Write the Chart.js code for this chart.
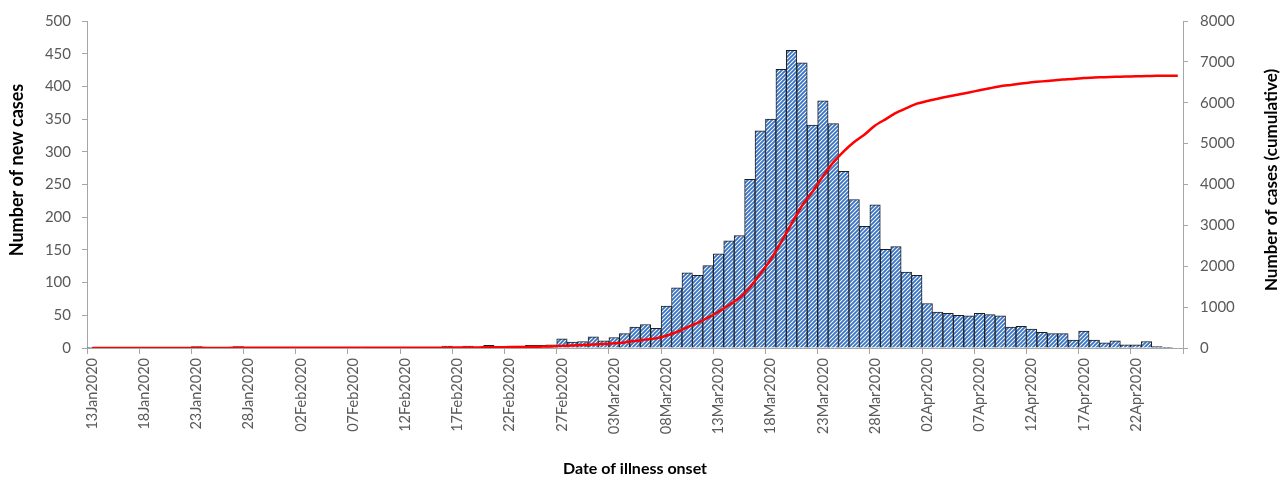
<!DOCTYPE html>
<html>
<head>
<meta charset="utf-8">
<title>Cases by date of illness onset</title>
<script src="https://cdn.jsdelivr.net/npm/chart.js@4/dist/chart.umd.min.js"></script>
<style>
  html, body { margin: 0; padding: 0; background: #fff; }
  #wrap { width: 1288px; height: 478px; position: relative; }
</style>
</head>
<body>
<div id="wrap"><canvas id="onsetChart"></canvas></div>
<script>
// Dates of illness onset (one bar per day)
const dates = [
    '13Jan2020', '14Jan2020', '15Jan2020', '16Jan2020', '17Jan2020', '18Jan2020', '19Jan2020', '20Jan2020', '21Jan2020', '22Jan2020',
    '23Jan2020', '24Jan2020', '25Jan2020', '26Jan2020', '27Jan2020', '28Jan2020', '29Jan2020', '30Jan2020', '31Jan2020', '01Feb2020',
    '02Feb2020', '03Feb2020', '04Feb2020', '05Feb2020', '06Feb2020', '07Feb2020', '08Feb2020', '09Feb2020', '10Feb2020', '11Feb2020',
    '12Feb2020', '13Feb2020', '14Feb2020', '15Feb2020', '16Feb2020', '17Feb2020', '18Feb2020', '19Feb2020', '20Feb2020', '21Feb2020',
    '22Feb2020', '23Feb2020', '24Feb2020', '25Feb2020', '26Feb2020', '27Feb2020', '28Feb2020', '29Feb2020', '01Mar2020', '02Mar2020',
    '03Mar2020', '04Mar2020', '05Mar2020', '06Mar2020', '07Mar2020', '08Mar2020', '09Mar2020', '10Mar2020', '11Mar2020', '12Mar2020',
    '13Mar2020', '14Mar2020', '15Mar2020', '16Mar2020', '17Mar2020', '18Mar2020', '19Mar2020', '20Mar2020', '21Mar2020', '22Mar2020',
    '23Mar2020', '24Mar2020', '25Mar2020', '26Mar2020', '27Mar2020', '28Mar2020', '29Mar2020', '30Mar2020', '31Mar2020', '01Apr2020',
    '02Apr2020', '03Apr2020', '04Apr2020', '05Apr2020', '06Apr2020', '07Apr2020', '08Apr2020', '09Apr2020', '10Apr2020', '11Apr2020',
    '12Apr2020', '13Apr2020', '14Apr2020', '15Apr2020', '16Apr2020', '17Apr2020', '18Apr2020', '19Apr2020', '20Apr2020', '21Apr2020',
    '22Apr2020', '23Apr2020', '24Apr2020', '25Apr2020', '26Apr2020'
];

// New cases per day (left axis)
const newCases = [
    1, 0, 0, 0, 0, 0, 0, 0, 0, 0,
    2, 0, 0, 0, 2, 0, 0, 0, 0, 0,
    0, 0, 1, 0, 0, 0, 0, 0, 0, 0,
    0, 0, 0, 0, 3, 1, 3, 1, 4, 2,
    2, 3, 4, 4, 5, 14, 9, 10, 17, 11,
    16, 22, 32, 36, 30, 64, 92, 115, 111, 126,
    144, 164, 172, 258, 332, 350, 426, 455, 436, 341,
    378, 343, 270, 227, 186, 219, 151, 155, 116, 111,
    68, 55, 53, 50, 49, 53, 51, 49, 32, 33,
    29, 24, 22, 22, 12, 26, 12, 8, 11, 5,
    5, 10, 2, 1, 0
];

// Cumulative cases (right axis)
const cumulativeCases = [
    1, 1, 1, 1, 1, 1, 1, 1, 1, 1,
    3, 3, 3, 3, 5, 5, 5, 5, 5, 5,
    5, 5, 6, 6, 6, 6, 6, 6, 6, 6,
    6, 6, 6, 6, 9, 10, 13, 14, 18, 20,
    22, 25, 29, 33, 38, 52, 61, 71, 88, 99,
    115, 137, 169, 205, 235, 299, 391, 506, 617, 743,
    887, 1051, 1223, 1481, 1813, 2163, 2589, 3044, 3480, 3821,
    4199, 4542, 4812, 5039, 5225, 5444, 5595, 5750, 5866, 5977,
    6045, 6100, 6153, 6203, 6252, 6305, 6356, 6405, 6437, 6470,
    6499, 6523, 6545, 6567, 6579, 6605, 6617, 6625, 6636, 6641,
    6646, 6656, 6658, 6659, 6659
];

const LABEL_EVERY = 5;
const AXIS_GREY = '#a6a6a6';
const TICK_TEXT = '#595959';
const FONT = 'Lato, "Open Sans", sans-serif';

// Blue diagonal hatch used for the bars
function makeHatch() {
    const c = document.createElement('canvas');
    c.width = 4;
    c.height = 4;
    const g = c.getContext('2d');
    g.fillStyle = '#ffffff';
    g.fillRect(0, 0, 4, 4);
    g.strokeStyle = '#3a74c4';
    g.lineWidth = 1.9;
    g.beginPath();
    g.moveTo(0, 4); g.lineTo(4, 0);
    g.moveTo(-1, 1); g.lineTo(1, -1);
    g.moveTo(3, 5); g.lineTo(5, 3);
    g.stroke();
    return g.createPattern(c, 'repeat');
}

// Both y titles read bottom-to-top, so they are drawn here
const axisTitles = {
    id: 'axisTitles',
    afterDraw(chart) {
        const ctx = chart.ctx;
        ctx.save();
        ctx.fillStyle = '#000';
        ctx.font = 'bold 18px ' + FONT;
        ctx.textAlign = 'center';
        ctx.textBaseline = 'middle';
        ctx.translate(17, 170);
        ctx.rotate(-Math.PI / 2);
        ctx.fillText('Number of new cases', 0, 0);
        ctx.restore();

        ctx.save();
        ctx.fillStyle = '#000';
        ctx.font = 'bold 17px ' + FONT;
        ctx.textAlign = 'center';
        ctx.textBaseline = 'middle';
        ctx.translate(1272, 180);
        ctx.rotate(-Math.PI / 2);
        ctx.fillText('Number of cases (cumulative)', 0, 0);
        ctx.restore();
    }
};

document.addEventListener('DOMContentLoaded', () => {
    const ctx = document.getElementById('onsetChart').getContext('2d');
    new Chart(ctx, {
        data: {
            labels: dates,
            datasets: [
                {
                    type: 'line',
                    label: 'Cumulative',
                    data: cumulativeCases,
                    yAxisID: 'y1',
                    borderColor: '#ff0000',
                    borderWidth: 2.5,
                    pointRadius: 0,
                    tension: 0.2,
                    order: 0
                },
                {
                    type: 'bar',
                    label: 'New cases',
                    data: newCases,
                    yAxisID: 'y',
                    backgroundColor: makeHatch(),
                    borderColor: '#1f1f1f',
                    borderWidth: 1,
                    barPercentage: 1,
                    categoryPercentage: 1,
                    order: 1
                }
            ]
        },
        options: {
            responsive: true,
            maintainAspectRatio: false,
            animation: false,
            layout: { padding: { top: 20, left: 0, right: 0, bottom: 0 } },
            plugins: {
                legend: { display: false },
                tooltip: { enabled: false }
            },
            scales: {
                x: {
                    type: 'category',
                    offset: true,
                    grid: {
                        offset: true,
                        drawOnChartArea: false,
                        tickLength: 6,
                        color: (c) => (c.index === undefined || c.index % LABEL_EVERY === 0) ? AXIS_GREY : 'rgba(0,0,0,0)'
                    },
                    border: { color: AXIS_GREY, width: 1 },
                    ticks: {
                        autoSkip: false,
                        maxRotation: 90,
                        minRotation: 90,
                        padding: 4,
                        color: TICK_TEXT,
                        font: { family: FONT, size: 14.5 },
                        callback: (val, i) => i % LABEL_EVERY === 0 ? dates[i] : ''
                    },
                    title: {
                        display: true,
                        text: 'Date of illness onset',
                        color: '#000',
                        font: { family: FONT, size: 16, weight: 'bold' },
                        padding: { top: 0, bottom: 0 }
                    },
                    afterFit: (scale) => { scale.height = 130; }
                },
                y: {
                    position: 'left',
                    min: 0,
                    max: 500,
                    grid: { drawOnChartArea: false, tickLength: 5, color: AXIS_GREY },
                    border: { color: AXIS_GREY, width: 1 },
                    ticks: {
                        stepSize: 50,
                        padding: 11,
                        color: TICK_TEXT,
                        font: { family: FONT, size: 15 }
                    },
                    afterFit: (scale) => { scale.width = 87; }
                },
                y1: {
                    position: 'right',
                    min: 0,
                    max: 8000,
                    grid: { drawOnChartArea: false, tickLength: 5, color: AXIS_GREY },
                    border: { color: AXIS_GREY, width: 1 },
                    ticks: {
                        stepSize: 1000,
                        padding: 12,
                        color: TICK_TEXT,
                        font: { family: FONT, size: 15 },
                        callback: (val) => String(val)
                    },
                    afterFit: (scale) => { scale.width = 105; }
                }
            }
        },
        plugins: [axisTitles]
    });
});
</script>
</body>
</html>
